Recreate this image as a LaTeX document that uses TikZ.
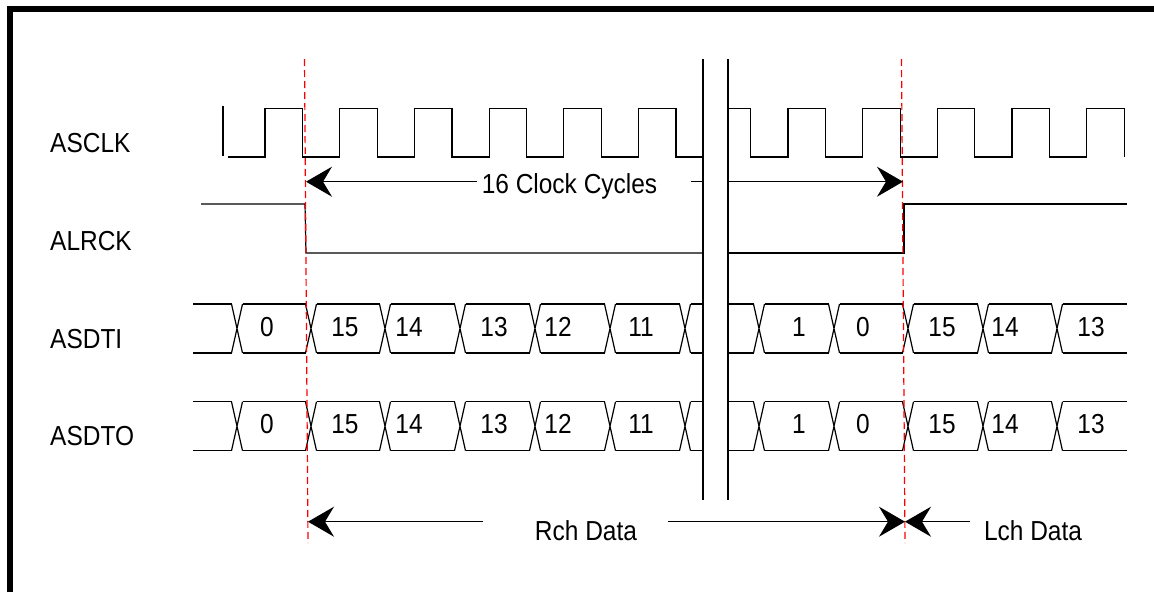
\documentclass[tikz,border=0pt]{standalone}
\usepackage{fontspec}
\setmainfont{Liberation Sans}[FakeStretch=0.89]
\usetikzlibrary{arrows.meta}
\begin{document}
\begin{tikzpicture}[x=1pt,y=-1pt,
  sig/.style={line width=1.2pt, line join=miter},
  lbl/.style={font=\fontsize{27.5}{30}\selectfont, inner sep=0pt, anchor=base},
  signame/.style={lbl, anchor=base west},
  guide/.style={line width=1.2pt, red, dash pattern=on 7pt off 4pt},
  arr/.style={sig, -{Stealth[length=26pt,width=30pt,inset=9pt]}}]
\useasboundingbox (0,0) rectangle (1154,592);
% frame
\draw[line width=5.5pt] (10,592) -- (10,9) -- (1154,9);

% signal names
\node[signame] (nclk) at (50,152.7) {ASCLK};
\node[signame] (nlr)  at (50,250) {ALRCK};
\node[signame] (nti)  at (50,348) {ASDTI};
\node[signame] (nto)  at (50,445) {ASDTO};

% break lines
\draw[sig] (703,59) -- (703,500);
\draw[sig] (728,59) -- (728,500);

% ASCLK
\draw[sig] (223,106) -- (223,156);
\draw[sig] (228,157) \foreach \k in {0,...,5} { -- ({265+74.7*\k},157) -- ({265+74.7*\k},108.7) -- ({302.5+74.7*\k},108.7) -- ({302.5+74.7*\k},157) } -- (703,157);
\draw[sig] (728,108.7) -- (750.7,108.7) -- (750.7,157) \foreach \k in {7,...,11} { -- ({265+74.7*\k},157) -- ({265+74.7*\k},108.7) -- ({302.5+74.7*\k},108.7) -- ({302.5+74.7*\k},157) };

% ALRCK
\draw[sig] (201,204) -- (305,204) -- (306,253) -- (703,253);
\draw[sig] (728,253) -- (904,253) -- (904,204) -- (1127,204);

% data buses
\foreach \T/\B in {304/353, 401.7/450.7} {
  \foreach \c in {237,311,385,460,535,610,685,759,834,908,983,1057}
    \draw[sig] ({\c-5.5},\T) -- ({\c+5.5},\B) ({\c-5.5},\B) -- ({\c+5.5},\T);
  \foreach \s/\e in {193/231.5, 242.5/305.5, 316.5/379.5, 390.5/454.5, 465.5/529.5, 540.5/604.5, 615.5/679.5, 690.5/703, 728/753.5, 764.5/828.5, 839.5/902.5, 913.5/977.5, 988.5/1051.5, 1062.5/1127}
    \draw[sig] (\s,\T) -- (\e,\T) (\s,\B) -- (\e,\B);
}
\foreach \x/\t [count=\i] in {267/0, 345/15, 409/14, 494/13, 558/12, 641/11, 799/1, 863/0, 942/15, 1005/14, 1091/13} {
  \node[lbl] (ti\i) at (\x,336) {\t};
  \node[lbl] (to\i) at (\x,433) {\t};
}

% guide lines
\draw[guide] (304.5,59) -- (308,543);
\draw[guide] (901.5,59) -- (905,543);

% 16 clock cycles
\node[lbl] (cc) at (569.5,193) {16 Clock Cycles};
\coordinate (ccA) at (477,181.7);
\coordinate (ccL) at (306,181.7);
\coordinate (ccB) at (691,181.7);
\coordinate (ccC) at (703,181.7);
\coordinate (ccD) at (728,181.7);
\coordinate (ccR) at (903,181.7);
\draw[arr] (ccA) -- (ccL);
\draw[sig] (ccB) -- (ccC);
\draw[arr] (ccD) -- (ccR);

% Rch / Lch data
\node[lbl] (rch) at (586,540) {Rch Data};
\node[lbl] (lch) at (1033,540) {Lch Data};
\coordinate (rA) at (483,521.7);
\coordinate (rL) at (308,521.7);
\coordinate (rB) at (668,521.7);
\coordinate (rR) at (905,521.7);
\coordinate (lA) at (970,521.7);
\draw[arr] (rA) -- (rL);
\draw[arr] (rB) -- (rR);
\draw[arr] (lA) -- (rR);
\end{tikzpicture}
\end{document}
